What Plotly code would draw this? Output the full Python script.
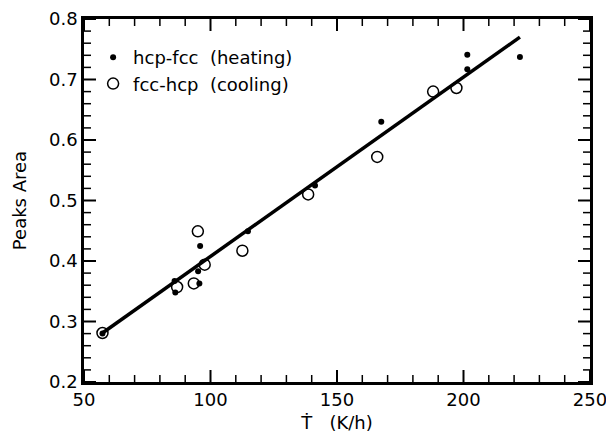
import plotly.graph_objects as go

# Data
heat_x = [57.3, 85.8, 86.1, 95.1, 95.6, 95.9, 114.8, 141.3, 167.5, 201.5, 201.5, 222.3]
heat_y = [0.280, 0.367, 0.348, 0.383, 0.363, 0.425, 0.449, 0.525, 0.630, 0.741, 0.717, 0.737]
cool_x = [57.3, 86.8, 93.4, 95.0, 97.7, 112.6, 138.6, 165.9, 188.0, 197.2]
cool_y = [0.281, 0.357, 0.363, 0.449, 0.394, 0.417, 0.510, 0.572, 0.680, 0.686]
fit_x = [57.3, 222.3]
fit_y = [0.281, 0.770]

x_range = [50, 250]
y_range = [0.2, 0.8]
x_ticks = [50, 100, 150, 200, 250]
y_ticks = [0.2, 0.3, 0.4, 0.5, 0.6, 0.7, 0.8]
x_minor = [v for v in range(50, 251, 10) if v % 50]
y_minor = [round(0.2 + 0.02 * i, 2) for i in range(31) if i % 5]

FONT = "DejaVu Sans"
W, H = 606, 430
M = dict(l=76, r=24, t=11, b=56)
PLOT_W = W - M["l"] - M["r"]
PLOT_H = H - M["t"] - M["b"]
MAJOR_LEN, MINOR_LEN = 12, 7

fig = go.Figure()
fig.add_trace(go.Scatter(
    x=cool_x, y=cool_y, mode="markers", name="fcc-hcp\u00a0\u00a0(cooling)",
    marker=dict(symbol="circle-open", size=11, color="black", line=dict(width=1.5, color="black")),
    legendrank=2,
))
fig.add_trace(go.Scatter(
    x=fit_x, y=fit_y, mode="lines", showlegend=False,
    line=dict(color="black", width=3.5),
))
fig.add_trace(go.Scatter(
    x=heat_x, y=heat_y, mode="markers", name="hcp-fcc\u00a0\u00a0(heating)",
    marker=dict(symbol="circle", size=6, color="black"),
    legendrank=1,
))

# Inward tick marks on all four sides, placed at the tick values via the axes
shapes = []
for vals, length, width in ((x_ticks, MAJOR_LEN, 2), (x_minor, MINOR_LEN, 1.5)):
    f = length / PLOT_H
    for v in vals:
        for y0, y1 in ((0, f), (1, 1 - f)):
            shapes.append(dict(type="line", xref="x", yref="y domain", x0=v, x1=v, y0=y0, y1=y1,
                               line=dict(color="black", width=width), layer="above"))
for vals, length, width in ((y_ticks, MAJOR_LEN, 2), (y_minor, MINOR_LEN, 1.5)):
    f = length / PLOT_W
    for v in vals:
        for x0, x1 in ((0, f), (1, 1 - f)):
            shapes.append(dict(type="line", xref="x domain", yref="y", x0=x0, x1=x1, y0=v, y1=v,
                               line=dict(color="black", width=width), layer="above"))

fig.update_layout(
    width=W, height=H,
    margin=dict(**M, autoexpand=False),
    paper_bgcolor="white", plot_bgcolor="white",
    font=dict(family=FONT, size=18, color="black"),
    xaxis=dict(
        range=x_range, tickvals=x_ticks, ticks="",
        showline=True, linecolor="black", linewidth=2.5, mirror=True,
        showgrid=False, zeroline=False, automargin=False,
        tickfont=dict(family=FONT, size=18, color="black"),
        title=dict(text="\u1E6A\u00a0\u00a0\u00a0(K/h)", font=dict(family=FONT, size=18, color="black"), standoff=8),
    ),
    yaxis=dict(
        range=y_range, tickvals=y_ticks, tickformat=".1f", ticks="", ticklabeloverflow="allow",
        showline=True, linecolor="black", linewidth=2.5, mirror=True,
        showgrid=False, zeroline=False, automargin=False,
        tickfont=dict(family=FONT, size=18, color="black"),
        title=dict(text="Peaks Area", font=dict(family=FONT, size=18, color="black"), standoff=18),
    ),
    shapes=shapes,
    legend=dict(
        x=0.018, y=0.945, xanchor="left", yanchor="top",
        bgcolor="rgba(0,0,0,0)", borderwidth=0,
        font=dict(family=FONT, size=18, color="black"),
        tracegroupgap=0,
    ),
    showlegend=True,
)

fig.write_html("out.html")
